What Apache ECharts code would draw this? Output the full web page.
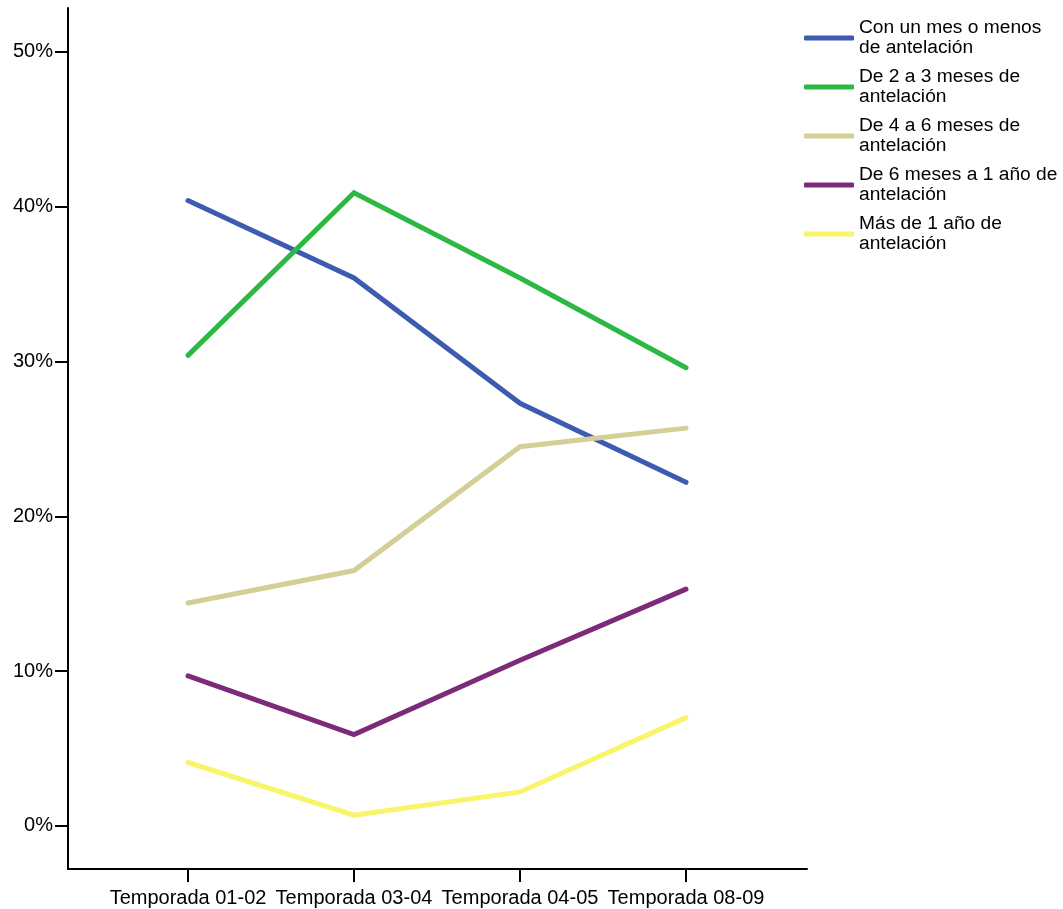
<!DOCTYPE html>
<html>
<head>
<meta charset="utf-8">
<script src="https://cdn.jsdelivr.net/npm/echarts@6/dist/echarts.min.js"></script>
<style>html,body{margin:0;padding:0;background:#fff}#c{width:1063px;height:909px}</style>
</head>
<body>
<div id="c"></div>
<script>
const categories = ['Temporada 01-02', 'Temporada 03-04', 'Temporada 04-05', 'Temporada 08-09'];
const yTicks = [0, 10, 20, 30, 40, 50];
const seriesNames = [
  'Con un mes o menos\nde antelación',
  'De 2 a 3 meses de\nantelación',
  'De 4 a 6 meses de\nantelación',
  'De 6 meses a 1 año de\nantelación',
  'Más de 1 año de\nantelación'
];
const colors = ['#3d5bb0', '#2cb842', '#d4cf97', '#7c2a7a', '#f8f56a'];
const unMes = [40.4, 35.4, 27.3, 22.2];
const dosTres = [30.4, 40.9, 35.4, 29.6];
const cuatroSeis = [14.4, 16.5, 24.5, 25.7];
const seisAnio = [9.7, 5.9, 10.7, 15.3];
const masAnio = [4.1, 0.7, 2.2, 7.0];
const values = [unMes, dosTres, cuatroSeis, seisAnio, masAnio];

const font = 'Liberation Sans, Arial, sans-serif';
const chart = echarts.init(document.getElementById('c'), null, {renderer: 'canvas'});
chart.setOption({
  animation: false,
  backgroundColor: '#fff',
  grid: {left: 68, right: 256, top: 8, bottom: 40, containLabel: false},
  legend: {
    orient: 'vertical', left: 799, top: 13, itemGap: 9,
    itemWidth: 50, itemHeight: 5, icon: 'roundRect',
    textStyle: {fontFamily: font, fontSize: 19.2, lineHeight: 20, color: '#000'},
    data: seriesNames
  },
  xAxis: {
    type: 'value', min: -0.723, max: 3.729,
    splitLine: {show: false},
    axisLine: {show: true, onZero: false, lineStyle: {color: '#000', width: 2}},
    axisTick: {show: true, length: 13, customValues: [0, 1, 2, 3], lineStyle: {color: '#000', width: 2}},
    axisLabel: {customValues: [0, 1, 2, 3], margin: 19, color: '#000', fontFamily: font, fontSize: 20,
      formatter: v => categories[Math.round(v)] || ''}
  },
  yAxis: {
    type: 'value', min: -2.78, max: 52.84,
    splitLine: {show: false},
    axisLine: {show: true, onZero: false, lineStyle: {color: '#000', width: 2}},
    axisTick: {show: true, length: 13, customValues: yTicks, lineStyle: {color: '#000', width: 2}},
    axisLabel: {customValues: yTicks, margin: 15, color: '#000', fontFamily: font, fontSize: 20,
      padding: [5, 0, 0, 0],
      formatter: v => v + '%'}
  },
  series: seriesNames.map((n, i) => ({
    name: n, type: 'line', symbol: 'none',
    color: colors[i],
    lineStyle: {width: 5, color: colors[i], cap: 'round', join: 'miter'},
    data: values[i].map((v, j) => [j, v])
  }))
});
</script>
</body>
</html>
